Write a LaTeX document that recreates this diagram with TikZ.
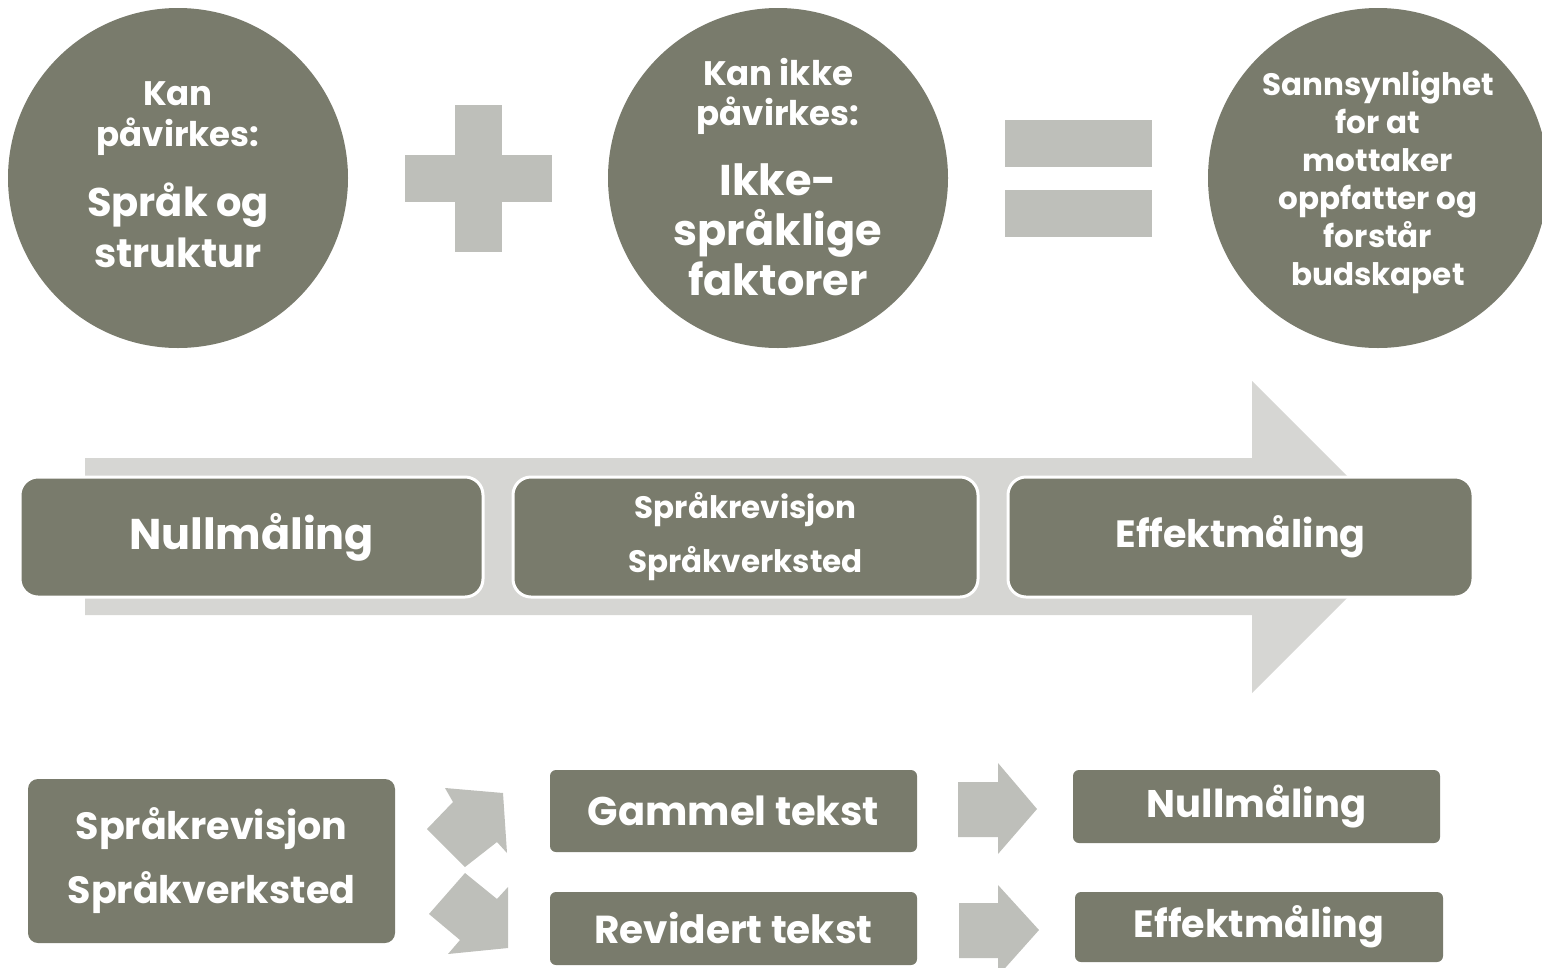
\documentclass[tikz,border=0pt]{standalone}
\usepackage{fontspec}
\setmainfont{Poppins}
\usetikzlibrary{positioning}

\definecolor{boxgray}{HTML}{797B6C}
\definecolor{signgray}{HTML}{BEBFBA}
\definecolor{bandgray}{HTML}{D6D6D3}

\begin{document}
\begin{tikzpicture}[
        x=1pt, y=-1pt,
        font=\bfseries,
        text=white,
        % Block styles
        circ/.style={
            circle,
            fill=boxgray,
            minimum size=340pt,
            inner sep=0pt
        },
        phase/.style={
            rectangle,
            fill=boxgray,
            draw=white,
            line width=3pt,
            rounded corners=18pt,
            minimum height=120pt,
            minimum width=465pt,
            align=center
        },
        tbox/.style={
            rectangle,
            fill=boxgray,
            rounded corners=6pt,
            minimum width=367pt,
            align=center
        },
        label/.style={inner sep=0pt, align=center},
        sign/.style={fill=signgray},
        band/.style={fill=bandgray}
    ]
    \useasboundingbox (0,0) rectangle (1542,967);

    % Circles
    \node[circ] (c1) at (178,178) {};
    \node[label, font=\bfseries\fontsize{34}{41}\selectfont] (c1top) at ([yshift=59pt]c1.center) {Kan\\påvirkes:};
    \node[label, font=\bfseries\fontsize{40}{51}\selectfont] (c1main) at ([yshift=-47pt]c1.center) {Språk og\\struktur};

    \node[circ] (c2) at (778,178) {};
    \node[label, font=\bfseries\fontsize{34}{40}\selectfont] (c2top) at ([yshift=82pt]c2.center) {Kan ikke\\påvirkes:};
    \node[label, font=\bfseries\fontsize{43}{50}\selectfont] (c2main) at ([yshift=-52pt]c2.center) {Ikke-\\språklige\\faktorer};

    \node[circ] (c3) at (1378,178) {};
    \node[label, font=\bfseries\fontsize{31}{38}\selectfont] (c3main) at ([yshift=-4pt]c3.center) {Sannsynlighet\\for at\\mottaker\\oppfatter og\\forstår\\budskapet};

    % Plus and equals
    \fill[sign] (455,105) rectangle (502,252);
    \fill[sign] (405,155) rectangle (552,202);
    \fill[sign] (1005,120) rectangle (1152,167);
    \fill[sign] (1005,190) rectangle (1152,237);

    % Process arrow
    \fill[band] (85,458) -- (1252,458) -- (1252,381) -- (1408,537)
        -- (1252,693) -- (1252,615) -- (85,615) -- cycle;
    \node[phase, minimum width=463pt, font=\bfseries\fontsize{43}{56}\selectfont] (null) at (251.5,537) {Nullmåling};
    \node[phase, font=\bfseries\fontsize{31}{54}\selectfont] (rev) at (745.5,537) {Språkrevisjon\\Språkverksted};
    \node[phase, font=\bfseries\fontsize{38}{50}\selectfont] (eff) at (1240.5,537) {Effektmåling};

    % Bottom row
    \node[tbox, rounded corners=10pt, minimum height=164pt, font=\bfseries\fontsize{38}{64}\selectfont] (work) at (211.5,861) {Språkrevisjon\\Språkverksted};
    \node[tbox, minimum height=82pt, font=\bfseries\fontsize{40}{50}\selectfont] (old) at (733.5,811) {Gammel tekst};
    \node[tbox, minimum height=73pt, font=\bfseries\fontsize{39}{50}\selectfont] (new) at (733.5,928.5) {Revidert tekst};
    \node[tbox, minimum height=73pt, font=\bfseries\fontsize{38.5}{50}\selectfont] (null2) at (1256.5,806.5) {Nullmåling};
    \node[tbox, minimum width=368pt, minimum height=70pt, font=\bfseries\fontsize{38}{50}\selectfont] (eff2) at (1259,927) {Effektmåling};

    % Split arrows
    \fill[sign] (427,829) -- (453,802) -- (445,788) -- (503,793)
        -- (507,853) -- (497,842) -- (465,867) -- cycle;
    \fill[sign] (429,914) -- (465,873) -- (497,899) -- (508,887)
        -- (508,948) -- (448,954) -- (460,940) -- cycle;
    \fill[sign] (958,782) -- (998,782) -- (998,763) -- (1037,809)
        -- (998,854) -- (998,837) -- (958,837) -- cycle;
    \fill[sign] (959,903) -- (998,903) -- (998,885) -- (1039,930)
        -- (998,976) -- (998,958) -- (959,958) -- cycle;

\end{tikzpicture}
\end{document}
